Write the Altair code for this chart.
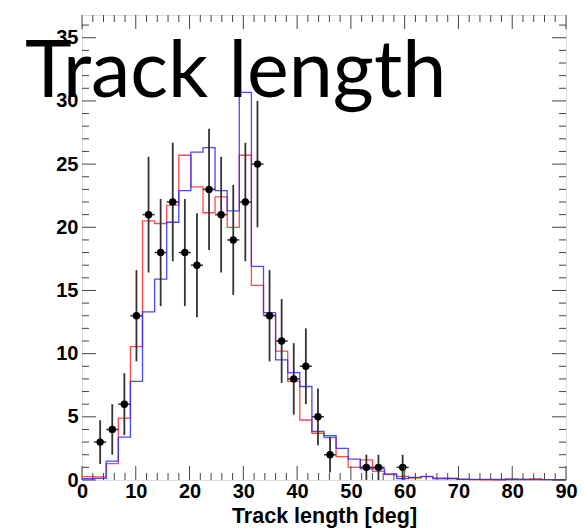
import altair as alt
import pandas as pd

# ---------------- data ----------------
BIN_W = 2.25
X_MAX = 90.0
Y_MAX = 36.8

red_vals = [0.26, 0.25, 1.3, 4.9, 10.55, 20.5, 20.3, 21.75, 25.7, 23.2,
            21.15, 22.4, 20.0, 25.7, 15.4, 13.05, 10.2, 7.8, 4.75, 3.7,
            3.35, 1.85, 1.0, 1.6, 0.68, 0.42, 0.28, 0.15, 0.28, 0.1,
            0.12, 0.05, 0.03, 0.02, 0.02, 0.08, 0.05, 0.08, 0.03, 0.02]
blue_vals = [0.1, 0.13, 1.5, 3.4, 7.8, 13.3, 15.9, 20.4, 22.9, 25.95,
             26.3, 22.9, 21.3, 30.67, 16.9, 13.25, 9.5, 8.5, 7.4, 3.85,
             3.5, 2.5, 1.65, 0.88, 0.88, 0.48, 0.12, 0.2, 0.27, 0.15,
             0.12, 0.06, 0.05, 0.05, 0.04, 0.04, 0.04, 0.04, 0.03, 0.03]

data_x = [3.375, 5.625, 7.875, 10.125, 12.375, 14.625, 16.875, 19.125,
          21.375, 23.625, 25.875, 28.125, 30.375, 32.625, 34.875, 37.125,
          39.375, 41.625, 43.875, 46.125, 52.875, 55.125, 59.625]
data_y = [3, 4, 6, 13, 21, 18, 22, 18, 17, 23, 21, 19, 22, 25, 13, 11,
          8, 9, 5, 2, 1, 1, 1]
data_err = [1.73, 2.0, 2.45, 3.61, 4.58, 4.24, 4.69, 4.24, 4.12, 4.8, 4.58,
            4.36, 4.69, 5.0, 3.61, 3.32, 2.83, 3.0, 2.24, 1.41, 1.0, 1.0, 1.0]

x_major = [0, 10, 20, 30, 40, 50, 60, 70, 80, 90]
x_minor = [v for v in range(0, 91, 2) if v % 10 != 0]
y_major = [0, 5, 10, 15, 20, 25, 30, 35]
y_minor = [v for v in range(0, 37) if v % 5 != 0]

TITLE = "Track length"
X_TITLE = "Track length [deg]"

# ---------------- layout ----------------
W, H = 484, 465
LABEL_FONT = "Liberation Sans"


def step_frame(vals, name):
    xs = [i * BIN_W for i in range(len(vals))] + [X_MAX]
    ys = list(vals) + [vals[-1]]
    return pd.DataFrame({"x": xs, "y": ys, "series": name})


hist_df = pd.concat([step_frame(red_vals, "red"), step_frame(blue_vals, "blue")])
pts_df = pd.DataFrame({
    "x": data_x, "y": data_y,
    "ylo": [y - e for y, e in zip(data_y, data_err)],
    "yhi": [y + e for y, e in zip(data_y, data_err)],
    "xlo": [x - BIN_W / 2 for x in data_x],
    "xhi": [x + BIN_W / 2 for x in data_x],
})

xs = alt.Scale(domain=[0, X_MAX], nice=False, zero=False)
ys = alt.Scale(domain=[0, Y_MAX], nice=False, zero=True)

x_axis = alt.Axis(values=x_major, format="d", labelFont=LABEL_FONT,
                  labelFontWeight="bold", labelFontSize=20, labelColor="black",
                  labelFlush=False, labelPadding=1, ticks=False, domain=False,
                  grid=False, title=X_TITLE, titleFont=LABEL_FONT,
                  titleFontWeight="bold", titleFontSize=21.5, titleColor="black",
                  titlePadding=4)
y_axis = alt.Axis(values=y_major, format="d", labelFont=LABEL_FONT,
                  labelFontWeight="bold", labelFontSize=20, labelColor="black",
                  labelPadding=4, ticks=False, domain=False, grid=False,
                  title=None)

red_line = alt.Chart(hist_df).transform_filter(alt.datum.series == "red").mark_line(
    interpolate="step-after", color="#ff2a2a", strokeWidth=1.3, opacity=0.85
).encode(x=alt.X("x:Q", scale=xs, axis=x_axis), y=alt.Y("y:Q", scale=ys, axis=y_axis))

blue_line = alt.Chart(hist_df).transform_filter(alt.datum.series == "blue").mark_line(
    interpolate="step-after", color="#2a2aff", strokeWidth=1.3, opacity=0.85
).encode(x=alt.X("x:Q", scale=xs), y=alt.Y("y:Q", scale=ys))

err_v = alt.Chart(pts_df).mark_rule(color="#333333", strokeWidth=1.8).encode(
    x=alt.X("x:Q", scale=xs), y=alt.Y("ylo:Q", scale=ys), y2="yhi:Q")
err_h = alt.Chart(pts_df).mark_rule(color="#333333", strokeWidth=1.5).encode(
    x=alt.X("xlo:Q", scale=xs), x2="xhi:Q", y=alt.Y("y:Q", scale=ys))
pts = alt.Chart(pts_df).mark_circle(color="black", size=55, opacity=1).encode(
    x=alt.X("x:Q", scale=xs), y=alt.Y("y:Q", scale=ys))

# inward ROOT-style ticks
xmaj_df = pd.DataFrame({"v": x_major})
xmin_df = pd.DataFrame({"v": x_minor})
ymaj_df = pd.DataFrame({"v": y_major})
ymin_df = pd.DataFrame({"v": y_minor})
TICK_C = "#444444"


def xticks(df, length):
    bot = alt.Chart(df).mark_rule(color=TICK_C, strokeWidth=1).encode(
        x=alt.X("v:Q", scale=xs), y=alt.value(H), y2=alt.value(H - length))
    top = alt.Chart(df).mark_rule(color=TICK_C, strokeWidth=1).encode(
        x=alt.X("v:Q", scale=xs), y=alt.value(0), y2=alt.value(length))
    return bot + top


def yticks(df, length):
    left = alt.Chart(df).mark_rule(color=TICK_C, strokeWidth=1).encode(
        y=alt.Y("v:Q", scale=ys), x=alt.value(0), x2=alt.value(length))
    right = alt.Chart(df).mark_rule(color=TICK_C, strokeWidth=1).encode(
        y=alt.Y("v:Q", scale=ys), x=alt.value(W), x2=alt.value(W - length))
    return left + right


title_df = pd.DataFrame({"t": [TITLE]})
title = alt.Chart(title_df).mark_text(
    align="left", baseline="alphabetic", font="Lato", fontSize=79,
    color="black"
).encode(text="t:N", x=alt.value(-57), y=alt.value(82))

chart = alt.layer(
    red_line, blue_line, err_v, err_h, pts,
    xticks(xmaj_df, 14), xticks(xmin_df, 7), yticks(ymaj_df, 14), yticks(ymin_df, 7),
    title,
).properties(
    width=W, height=H,
    autosize=alt.AutoSizeParams(type="none"),
    padding={"left": 82, "top": 15, "right": 19, "bottom": 48},
).configure_view(stroke="#222222", strokeWidth=1.2).configure(background="white")

chart.save("out.html", embed_options={"renderer": "svg", "actions": False})
